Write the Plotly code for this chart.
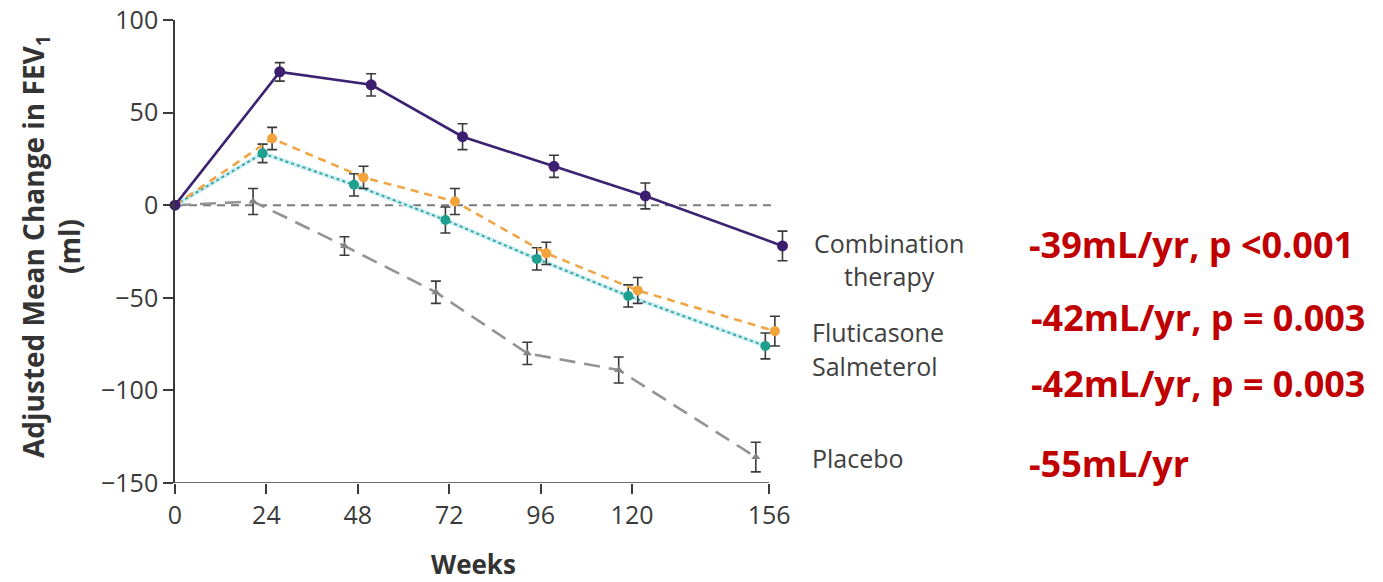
import plotly.graph_objects as go

# Study visits (weeks) and adjusted mean change in FEV1 (ml) per treatment group
weeks = [0, 24, 48, 72, 96, 120, 156]

combination = [0, 72, 65, 37, 21, 5, -22]
combination_se = [0, 5, 6, 7, 6, 7, 8]

fluticasone = [0, 36, 15, 2, -26, -46, -68]
fluticasone_se = [0, 6, 6, 7, 6, 7, 8]

salmeterol = [0, 28, 11, -8, -29, -49, -76]
salmeterol_se = [0, 5, 6, 7, 6, 6, 7]

placebo = [0, 2, -22, -47, -80, -89, -136]
placebo_se = [0, 7, 5, 6, 6, 7, 8]

y_ticks = [-150, -100, -50, 0, 50, 100]

group_labels = ["Combination<br>therapy", "Fluticasone", "Salmeterol", "Placebo"]
decline_labels = ["-39mL/yr, p <0.001", "-42mL/yr, p = 0.003",
                  "-42mL/yr, p = 0.003", "-55mL/yr"]

# Figure geometry (pixels)
W, H = 1383, 582
X_MAX = 162                     # a little room past week 156 for offset markers
PX_PER_WEEK = 3.806
L = 175
R = L + X_MAX * PX_PER_WEEK
T, B = 19.5, 483.3


def shifted(xs, dx):
    # small horizontal offset so overlapping error bars stay readable
    return [x + dx if x > 0 else x for x in xs]


def px_x(p):
    return (p - L) / (R - L)


def px_y(p):
    return (B - p) / (B - T)


ERR = dict(type="data", thickness=1.6, width=5, color="#3a3a3a")
AXIS_COLOR = "#3a3a3a"

fig = go.Figure()

# Placebo: grey long dashes
fig.add_trace(go.Scatter(
    x=shifted(weeks, -3.5), y=placebo,
    error_y=dict(array=placebo_se, **ERR),
    mode="lines+markers",
    line=dict(color="#939393", width=2.6, dash="16px,9px"),
    marker=dict(symbol="triangle-up", size=8, color="#858585"),
    cliponaxis=False, showlegend=False))

# Salmeterol: teal dotted line over a pale cyan band
fig.add_trace(go.Scatter(
    x=shifted(weeks, -1.0), y=salmeterol,
    mode="lines", line=dict(color="#cfeef5", width=4.5),
    cliponaxis=False, showlegend=False, hoverinfo="skip"))
fig.add_trace(go.Scatter(
    x=shifted(weeks, -1.0), y=salmeterol,
    error_y=dict(array=salmeterol_se, **ERR),
    mode="lines+markers",
    line=dict(color="#3aa89a", width=2, dash="dot"),
    marker=dict(symbol="circle", size=10, color="#1fa08e"),
    cliponaxis=False, showlegend=False))

# Fluticasone: orange dashes
fig.add_trace(go.Scatter(
    x=shifted(weeks, 1.5), y=fluticasone,
    error_y=dict(array=fluticasone_se, **ERR),
    mode="lines+markers",
    line=dict(color="#f0a547", width=2.6, dash="8px,6px"),
    marker=dict(symbol="circle", size=10, color="#f2a33c"),
    cliponaxis=False, showlegend=False))

# Combination therapy: solid purple
fig.add_trace(go.Scatter(
    x=shifted(weeks, 3.5), y=combination,
    error_y=dict(array=combination_se, **ERR),
    mode="lines+markers",
    line=dict(color="#3c2270", width=2.6),
    marker=dict(symbol="circle", size=11, color="#3c1f6e"),
    cliponaxis=False, showlegend=False))

# Zero reference line
fig.add_shape(type="line", xref="x", yref="y", x0=weeks[0], x1=weeks[-1] + 1.5,
              y0=0, y1=0,
              line=dict(color="#7a7a7a", width=2, dash="8px,6px"), layer="below")

# X axis baseline, stopping at the last visit
fig.add_shape(type="line", xref="x", yref="y", x0=weeks[0], x1=weeks[-1],
              y0=y_ticks[0], y1=y_ticks[0],
              line=dict(color=AXIS_COLOR, width=1.6), layer="above")

grey_font = dict(family="Open Sans", size=25, color="#404040")
red_font = dict(family="Open Sans", size=36, color="#c00000")

# Group labels to the right of the lines
label_pos = [(889, 259, "center"), (810, 332, "left"), (810, 366, "left"), (810, 458, "left")]
for text, (x, y, anchor) in zip(group_labels, label_pos):
    fig.add_annotation(text=text, xref="paper", yref="paper",
                       x=px_x(x), y=px_y(y),
                       xanchor=anchor, yanchor="middle", align="center",
                       showarrow=False, font=grey_font)

# Annual decline figures in red
red_pos = [(1026, 244), (1028, 318), (1028, 384), (1026, 464)]
for text, (x, y) in zip(decline_labels, red_pos):
    fig.add_annotation(text="<b>" + text + "</b>", xref="paper", yref="paper",
                       x=px_x(x), y=px_y(y), xanchor="left", yanchor="middle",
                       showarrow=False, font=red_font)

# Y axis title (two lines, rotated)
fig.add_annotation(text="<b>Adjusted Mean Change in FEV<sub>1</sub><br>(ml)</b>",
                   xref="paper", yref="paper", x=px_x(51), y=px_y(246),
                   xanchor="center", yanchor="middle", textangle=-90,
                   showarrow=False, align="center",
                   font=dict(family="Open Sans", size=28, color="#333333"))

# X axis title
fig.add_annotation(text="<b>Weeks</b>", xref="paper", yref="paper",
                   x=px_x(473), y=px_y(564), xanchor="center", yanchor="middle",
                   showarrow=False,
                   font=dict(family="Open Sans", size=26, color="#333333"))

fig.update_layout(
    width=W, height=H,
    margin=dict(l=L, r=W - R, t=T, b=H - B, pad=0),
    paper_bgcolor="white", plot_bgcolor="white",
    xaxis=dict(range=[0, X_MAX], tickvals=weeks, ticktext=[str(w) for w in weeks],
               showline=False, automargin=False,
               ticks="outside", ticklen=10, tickwidth=1.6, tickcolor=AXIS_COLOR,
               showgrid=False, zeroline=False,
               tickfont=dict(family="Open Sans", size=25, color="#3a3a3a")),
    yaxis=dict(range=[y_ticks[0], y_ticks[-1]], tickvals=y_ticks,
               ticktext=[str(v).replace("-", "\u2212") for v in y_ticks],
               showline=True, linecolor=AXIS_COLOR, linewidth=1.6, automargin=False,
               ticks="outside", ticklen=10, tickwidth=1.6, tickcolor=AXIS_COLOR,
               showgrid=False, zeroline=False,
               tickfont=dict(family="Open Sans", size=25, color="#3a3a3a")),
)

fig.write_html("out.html")
